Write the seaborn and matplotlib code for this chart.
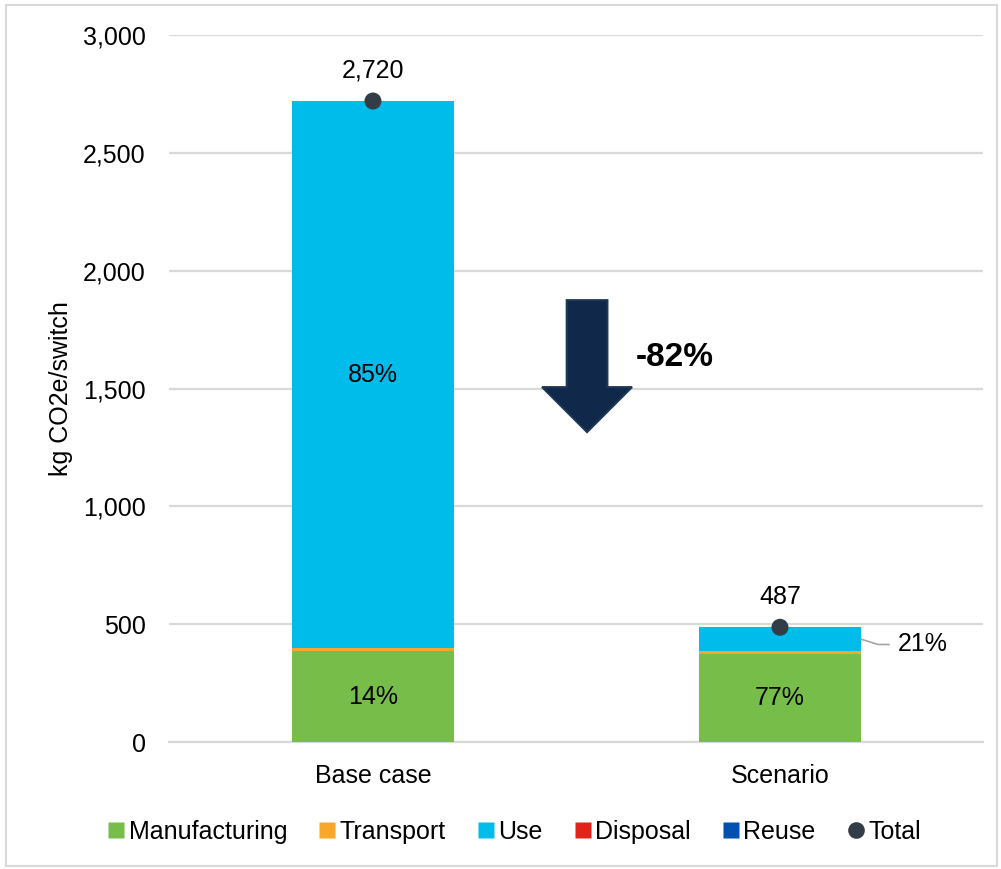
import matplotlib
matplotlib.use("Agg")
import matplotlib.pyplot as plt
from matplotlib.patches import FancyArrow, Rectangle
from matplotlib.lines import Line2D
import numpy as np
import pandas as pd
import seaborn as sns

# Life-cycle emissions per switch, kg CO2e
categories = ["Base case", "Scenario"]
manufacturing = [385, 375]
transport = [12, 10]
use = [2322, 102]
disposal = [1, 0]
reuse = [0, 0]
totals = [2720, 487]
y_ticks = [0, 500, 1000, 1500, 2000, 2500, 3000]

components = ["Manufacturing", "Transport", "Use", "Disposal", "Reuse"]
colors = {
    "Manufacturing": "#76bd4a",
    "Transport": "#f9a72b",
    "Use": "#00bceb",
    "Disposal": "#e2231a",
    "Reuse": "#0051af",
}
total_color = "#333d47"
FS = 18

sns.set_theme(style="white")
plt.rcParams["font.family"] = ["Liberation Sans", "DejaVu Sans"]
plt.rcParams["text.color"] = "black"

df = pd.DataFrame({
    "category": categories,
    "Manufacturing": manufacturing,
    "Transport": transport,
    "Use": use,
    "Disposal": disposal,
    "Reuse": reuse,
    "Total": totals,
})

fig = plt.figure(figsize=(10.01, 8.69), dpi=100)
ax = fig.add_axes([0.1693, 0.1461, 0.8132, 0.8136])

# Stacked bars: draw cumulative heights from the top segment down
cum = df[components].cumsum(axis=1)
for comp in reversed(components):
    sns.barplot(x=df["category"], y=cum[comp], color=colors[comp], width=0.4,
                saturation=1, ax=ax, linewidth=0, zorder=3)

# Total markers
sns.scatterplot(x=df["category"], y=df["Total"], color=total_color, s=150,
                ax=ax, zorder=5, edgecolor="none")

ax.set_xlim(-0.5, 1.5)
ax.set_ylim(0, 3000)
ax.set_yticks(y_ticks)
ax.set_yticklabels([f"{v:,}" for v in y_ticks])
ax.yaxis.grid(True, color="#d9d9d9", linewidth=1.6, zorder=0)
ax.set_axisbelow(True)
for s in ["top", "right", "left"]:
    ax.spines[s].set_visible(False)
ax.spines["bottom"].set_color("#d9d9d9")
ax.spines["bottom"].set_linewidth(1.6)
ax.tick_params(axis="y", length=0, pad=17, labelsize=FS, labelcolor="black")
ax.tick_params(axis="x", length=0, pad=16, labelsize=FS, labelcolor="black")
ax.set_xlabel("")
ax.set_ylabel("kg CO2e/switch", fontsize=FS, color="black")
ax.yaxis.set_label_coords(-0.119, 0.5)

# Total value labels
for i, t in enumerate(totals):
    ax.annotate(f"{t:,}", (i, t), xytext=(0, 13), textcoords="offset points",
                ha="center", va="bottom", fontsize=FS, color="black")

# Share labels inside segments
for i in range(len(categories)):
    tot = totals[i]
    m = manufacturing[i]
    ax.text(i, m / 2, f"{m / tot:.0%}", ha="center", va="center",
            fontsize=FS, color="black", zorder=6)
base_use_mid = manufacturing[0] + transport[0] + use[0] / 2
ax.text(0, base_use_mid, f"{use[0] / totals[0]:.0%}", ha="center", va="center",
        fontsize=FS, color="black", zorder=6)

# Scenario use share with leader line
sc_use_mid = manufacturing[1] + transport[1] + use[1] / 2
ax.plot([1.2, 1.241, 1.268], [sc_use_mid, sc_use_mid - 22, sc_use_mid - 22],
        color="#a6a6a6", linewidth=1.2, clip_on=False, zorder=6)
ax.text(1.29, sc_use_mid - 22, f"{use[1] / totals[1]:.0%}", ha="left",
        va="center", fontsize=FS, color="black")

# Reduction arrow
change = (totals[1] - totals[0]) / totals[0]
arrow = FancyArrow(0.526, 1875, 0, -560, width=0.1, head_width=0.221,
                   head_length=191, length_includes_head=True,
                   facecolor="#10284a", edgecolor="#1e3756", linewidth=1.5,
                   zorder=6)
ax.add_patch(arrow)
ax.text(0.646, 1633, f"{change:.0%}".replace("−", "-"), ha="left", va="center",
        fontsize=24, fontweight="bold", color="black")

# Legend
handles = [Line2D([0], [0], marker="s", linestyle="none", markersize=11,
                  markerfacecolor=colors[c], markeredgecolor="none", label=c)
           for c in components]
handles.append(Line2D([0], [0], marker="o", linestyle="none", markersize=12,
                      markerfacecolor=total_color, markeredgecolor="none",
                      label="Total"))
leg = fig.legend(handles=handles, loc="center", bbox_to_anchor=(0.513, 0.043),
                 ncol=6, frameon=False, fontsize=FS, handletextpad=0.1,
                 columnspacing=1.2, handlelength=0.8)
for t in leg.get_texts():
    t.set_color("black")

# Outer frame
fig.patches.append(Rectangle((0.006, 0.004), 0.99, 0.99, transform=fig.transFigure,
                             fill=False, edgecolor="#d9d9d9", linewidth=1.5))

fig.savefig("out.png", dpi=100)
